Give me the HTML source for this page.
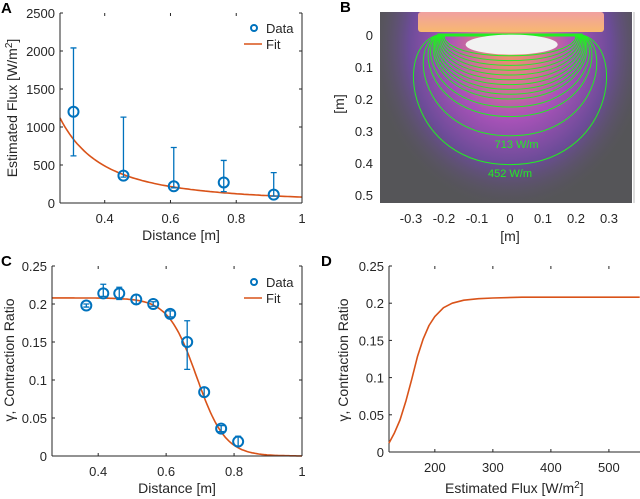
<!DOCTYPE html>
<html><head><meta charset="utf-8"><style>
body{margin:0;background:#fff;}
svg{display:block;font-family:"Liberation Sans",sans-serif;}
</style></head><body>
<svg id="fig" width="640" height="499" viewBox="0 0 640 499">
<defs>
<clipPath id="bclip"><rect x="380" y="12" width="252" height="191"/></clipPath>
<radialGradient id="glow" cx="0.5" cy="0.5" r="0.5">
<stop offset="0" stop-color="#f0a060"/>
<stop offset="0.22" stop-color="#d87890"/>
<stop offset="0.45" stop-color="#a852b8"/>
<stop offset="0.72" stop-color="#6c4c98"/>
<stop offset="1" stop-color="#555558" stop-opacity="0"/>
</radialGradient>
<linearGradient id="heater" x1="0" y1="0" x2="0" y2="1">
<stop offset="0" stop-color="#f0a0a0"/><stop offset="1" stop-color="#f8b870"/>
</linearGradient>
</defs>
</svg>
<script>
const NS='http://www.w3.org/2000/svg';
const svg=document.getElementById('fig');
// ---- Panel A data ----
const aDist=[0.305,0.457,0.61,0.762,0.914];
const aFlux=[1200,360,220,270,110];
const aErrLo=[620,340,200,150,90];
const aErrHi=[2040,1130,730,560,400];
const aFitCoef=[78];
const aXTicks=[0.4,0.6,0.8,1];
const aYTicks=[0,500,1000,1500,2000,2500];
// ---- Panel C data ----
const cDist=[0.365,0.415,0.462,0.512,0.562,0.612,0.662,0.712,0.762,0.812];
const cRatio=[0.198,0.214,0.214,0.206,0.2,0.187,0.15,0.084,0.036,0.019];
const cErrLo=[0.196,0.21,0.206,0.2,0.197,0.183,0.114,0.078,0.032,0.013];
const cErrHi=[0.2,0.226,0.222,0.212,0.203,0.191,0.178,0.09,0.04,0.026];
const cFitParams=[0.208,0.69,0.042];
const cXTicks=[0.4,0.6,0.8,1];
const cYTicks=[0,0.05,0.1,0.15,0.2,0.25];
// ---- Panel D data ----
const dFlux=[121,130,140,150,160,170,180,190,200,215,230,250,275,300,350,400,500,553];
const dRatio=[0.012,0.025,0.043,0.068,0.097,0.128,0.152,0.17,0.182,0.194,0.2,0.204,0.206,0.207,0.208,0.208,0.208,0.208];
const dXTicks=[200,300,400,500];
const dYTicks=[0,0.05,0.1,0.15,0.2,0.25];
// ---- Panel B ----
const bXTicks=[-0.3,-0.2,-0.1,0,0.1,0.2,0.3];
const bYTicks=[0,0.1,0.2,0.3,0.4,0.5];
const bDepths=[0.405,0.315,0.255,0.225,0.2,0.185,0.17,0.155,0.14,0.125,0.11,0.095,0.08,0.065];
const bWidths=[0.31,0.27,0.25,0.24,0.23,0.225,0.22,0.215,0.21,0.205,0.2,0.195,0.19,0.185];

function el(tag,attrs,parent){const e=document.createElementNS(NS,tag);for(const k in attrs)e.setAttribute(k,attrs[k]);(parent||svg).appendChild(e);return e;}
function txt(s,x,y,anchor,size,parent,extra){const t=el('text',Object.assign({x:x,y:y,'text-anchor':anchor||'middle','font-size':size||13,fill:'#262626'},extra||{}),parent);t.textContent=s;return t;}
function axes(name,L,R,T,B,x0,x1,y0,y1){return {name,L,R,T,B,sx:v=>L+(v-x0)/(x1-x0)*(R-L),sy:v=>B-(v-y0)/(y1-y0)*(B-T)};}
function frame(ax,xt,yt,xfmt,yfmt,right){
 const g=el('g',{});
 
 
 el('line',{x1:ax.L,y1:ax.T,x2:ax.L,y2:ax.B,stroke:'#262626','stroke-width':1},g);
 el('line',{x1:ax.L,y1:ax.B,x2:ax.R,y2:ax.B,stroke:'#262626','stroke-width':1},g);
 if(right)el('line',{x1:ax.R,y1:ax.T,x2:ax.R,y2:ax.B,stroke:'#262626','stroke-width':1},g);
 xt.forEach(v=>{const x=ax.sx(v);el('line',{x1:x,y1:ax.B,x2:x,y2:ax.B-3,stroke:'#262626'},g);el('line',{x1:x,y1:ax.T,x2:x,y2:ax.T+3,stroke:'#262626'},g);
  const t=txt(xfmt(v),x,ax.B+20,'middle',13,g);});
 yt.forEach(v=>{const y=ax.sy(v);el('line',{x1:ax.L,y1:y,x2:ax.L+3,y2:y,stroke:'#262626'},g);if(right)el('line',{x1:ax.R,y1:y,x2:ax.R-3,y2:y,stroke:'#262626'},g);
  const t=txt(yfmt(v),ax.L-5,y+5,'end',13,g);});
 return g;}
const f0=v=>String(v);
function legend(x,y,g){
 const lg=el('g',{},g);
 
 
 el('circle',{cx:x,cy:y,r:3,fill:'none',stroke:'#0072BD','stroke-width':2},lg);
 txt('Data',x+12,y+5,'start',13,lg);
 el('line',{x1:x-10,y1:y+16,x2:x+8,y2:y+16,stroke:'#D95319','stroke-width':1.5},lg);
 txt('Fit',x+12,y+21,'start',13,lg);}
function errorbars(ax,xs,ys,lo,hi,g,nm){
 xs.forEach((xv,i)=>{const x=ax.sx(xv);
  const e=el('path',{d:`M${x},${ax.sy(lo[i])}V${ax.sy(hi[i])}M${x-3},${ax.sy(lo[i])}h6M${x-3},${ax.sy(hi[i])}h6`,stroke:'#0072BD','stroke-width':1.3,fill:'none'},g);
  
  
  const c=el('circle',{cx:x,cy:ax.sy(ys[i]),r:5,fill:'none',stroke:'#0072BD','stroke-width':2},g);
  
  });}
function panelLabel(s,x,y){const t=txt(s,x,y,'start',15,svg,{'font-weight':'bold',fill:'#000'});}

// ===== Panel A =====
const A=axes('panel-a',60,302,13,203,0.264,1,0,2500);
const gA=el('g',{});
frame(A,aXTicks,aYTicks,f0,f0,true);
let pA='';for(let i=0;i<=100;i++){const x=0.264+(1-0.264)*i/100;pA+=(i?'L':'M')+A.sx(x).toFixed(1)+','+A.sy(aFitCoef[0]/(x*x)).toFixed(1);}
const fa=el('path',{d:pA,fill:'none',stroke:'#D95319','stroke-width':1.6},gA);

errorbars(A,aDist,aFlux,aErrLo,aErrHi,gA,'flux');
legend(254,28,gA);
let t=txt('Distance [m]',A.sx(0.632),240,'middle',14);
t=el('text',{x:0,y:0,'font-size':14,fill:'#262626','text-anchor':'middle',transform:'translate(17,108) rotate(-90)'});t.innerHTML='Estimated Flux [W/m<tspan dy="-5" font-size="10">2</tspan><tspan dy="5">]</tspan>';

panelLabel('A',1,13);

// ===== Panel C =====
const C=axes('panel-c',52,302,266,456,0.264,1,0,0.25);
const gC=el('g',{});
frame(C,cXTicks,cYTicks,f0,f0,true);
let pC='';for(let i=0;i<=150;i++){const x=0.264+(1-0.264)*i/150;const y=cFitParams[0]/(1+Math.exp((x-cFitParams[1])/cFitParams[2]));pC+=(i?'L':'M')+C.sx(x).toFixed(1)+','+C.sy(y).toFixed(1);}
const fc=el('path',{d:pC,fill:'none',stroke:'#D95319','stroke-width':1.6},gC);

errorbars(C,cDist,cRatio,cErrLo,cErrHi,gC,'ratio');
legend(254,282,gC);
t=txt('Distance [m]',C.sx(0.632),493,'middle',14);
t=txt('γ, Contraction Ratio',0,0,'middle',14,svg,{transform:'translate(14,360) rotate(-90)'});
panelLabel('C',1,266);

// ===== Panel D =====
const D=axes('panel-d',389,700,266,452,121,657,0,0.25);
frame(D,dXTicks,dYTicks,f0,f0,false);
const gD=el('g',{});
const pD=dFlux.map((v,i)=>(i?'L':'M')+D.sx(v).toFixed(1)+','+D.sy(dRatio[i]).toFixed(1)).join('');
const fd=el('path',{d:pD,fill:'none',stroke:'#D95319','stroke-width':1.6,'stroke-linejoin':'round'},gD);

t=el('text',{x:D.sx(337),y:493,'font-size':14,fill:'#262626','text-anchor':'middle'});t.innerHTML='Estimated Flux [W/m<tspan dy="-5" font-size="10">2</tspan><tspan dy="5">]</tspan>';

t=txt('γ, Contraction Ratio',0,0,'middle',14,svg,{transform:'translate(348,360) rotate(-90)'});
panelLabel('D',321,266);

// ===== Panel B (y axis points downward: 0 at top) =====
const B={L:380,R:632,T:12,B:203,sx:v=>510+v*330,sy:v=>35+v*320};
const gB=el('g',{'clip-path':'url(#bclip)'});
el('rect',{x:380,y:12,width:252,height:191,fill:'#555558'},gB);
el('ellipse',{cx:510,cy:45,rx:140,ry:165,fill:'url(#glow)'},gB);
el('rect',{x:418,y:12,width:186,height:20,fill:'url(#heater)',rx:3},gB);
bDepths.forEach((d,i)=>{const w=bWidths[i];const y0=B.sy(0),yb=B.sy(d);
 const s=0.22-i*0.002;
 const c=el('path',{d:`M${B.sx(-s)},${y0} C${B.sx(-w*1.15)},${B.sy(d*0.1)} ${B.sx(-w*1.0)},${yb} ${B.sx(0)},${yb} C${B.sx(w*1.0)},${yb} ${B.sx(w*1.15)},${B.sy(d*0.1)} ${B.sx(s)},${y0}`,fill:'none',stroke:'#22ee22','stroke-width':1},gB);
 });
el('line',{x1:B.sx(-0.22),y1:B.sy(0),x2:B.sx(0.22),y2:B.sy(0),stroke:'#22ee22','stroke-width':3},gB);
el('ellipse',{cx:B.sx(0.005),cy:B.sy(0.03),rx:46,ry:10,fill:'#f2f2f2'},gB);
t=txt('713 W/m',B.sx(0.02),148,'middle',11,gB,{fill:'#22ee22'});
t=txt('452 W/m',B.sx(0.0),177,'middle',11,gB,{fill:'#22ee22'});
el('line',{x1:634,y1:12,x2:634,y2:203,stroke:'#bbb'});
bYTicks.forEach(v=>{const l=txt(String(v),373,B.sy(v)+5,'end',13);});
bXTicks.forEach(v=>{const l=txt(String(v),B.sx(v),223,'middle',13);});
t=txt('[m]',B.sx(0),241,'middle',14);
t=txt('[m]',0,0,'middle',14,svg,{transform:'translate(344,104) rotate(-90)'});
panelLabel('B',340,12);
</script>
</body></html>
